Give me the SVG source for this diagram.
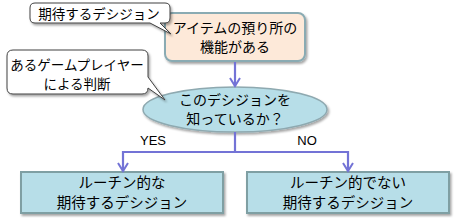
<svg xmlns="http://www.w3.org/2000/svg" width="456" height="221" viewBox="0 0 456 221">
<defs>
<filter id="sh" x="-10%" y="-10%" width="130%" height="140%">
<feDropShadow dx="1.5" dy="2" stdDeviation="1.2" flood-color="#000" flood-opacity="0.35"/>
</filter>
<marker id="ah" viewBox="0 0 12 12" refX="10" refY="6" markerWidth="12" markerHeight="12" markerUnits="userSpaceOnUse" orient="auto">
<path d="M2,1 L10,6 L2,11" fill="none" stroke="#7373D6" stroke-width="2"/>
</marker>
<style>
.jp{font-family:"Noto Sans CJK JP","Noto Sans",sans-serif;font-size:14px;fill:#000;text-anchor:middle}
.en{font-family:"Liberation Sans",Arial,sans-serif;font-size:13px;fill:#000;text-anchor:middle}
.conn{fill:none;stroke:#7373D6;stroke-width:2.2}
.callout{fill:#fff;stroke:#404040;stroke-width:1}
</style>
</defs>
<g id="node-top">
<rect x="165" y="13" width="140" height="48" rx="7" fill="#FDE9D9" stroke="#8AABB3" stroke-width="2" filter="url(#sh)"/>
<text class="jp" x="235" y="33">アイテムの預り所の</text>
<text class="jp" x="235" y="52">機能がある</text>
</g>
<g id="node-decision">
<ellipse cx="235" cy="109.5" rx="92" ry="22.5" fill="#B7DEE8" stroke="#8EA9B0" stroke-width="1.5" filter="url(#sh)"/>
<text class="jp" x="235" y="105">このデシジョンを</text>
<text class="jp" x="235" y="124">知っているか？</text>
</g>
<g id="node-routine">
<rect x="21" y="172" width="202" height="41" fill="#B7DEE8" stroke="#7F9FA3" stroke-width="2" filter="url(#sh)"/>
<text class="jp" x="122" y="188" style="font-size:14.5px">ルーチン的な</text>
<text class="jp" x="122" y="208" style="font-size:14.5px">期待するデシジョン</text>
</g>
<g id="node-nonroutine">
<rect x="247" y="172" width="202" height="41" fill="#B7DEE8" stroke="#7F9FA3" stroke-width="2" filter="url(#sh)"/>
<text class="jp" x="348" y="188" style="font-size:14.5px">ルーチン的でない</text>
<text class="jp" x="348" y="208" style="font-size:14.5px">期待するデシジョン</text>
</g>
<g id="connectors">
<path class="conn" d="M235,62 V86" marker-end="url(#ah)"/>
<path class="conn" d="M235,132 V152 H123 V171" marker-end="url(#ah)"/>
<path class="conn" d="M235,152 H348 V171" marker-end="url(#ah)"/>
<text class="en" x="153" y="145">YES</text>
<text class="en" x="307" y="145">NO</text>
</g>
<g id="callout-expected">
<path class="callout" filter="url(#sh)" d="M35,3 H165 Q170,3 170,8 V18 Q170,23 165,23 H160 L171,34 L150,23 H35 Q30,23 30,18 V8 Q30,3 35,3 Z"/>
<text class="jp" x="99" y="19" style="font-size:13.5px">期待するデシジョン</text>
</g>
<g id="callout-player">
<path class="callout" filter="url(#sh)" d="M13,50 H142 Q148,50 148,56 V77 L165,100 L148,88 Q148,94 142,94 H13 Q7,94 7,88 V56 Q7,50 13,50 Z"/>
<text class="jp" x="77" y="70" style="font-size:13.5px">あるゲームプレイヤー</text>
<text class="jp" x="77" y="89" style="font-size:13.5px">による判断</text>
</g>
</svg>
